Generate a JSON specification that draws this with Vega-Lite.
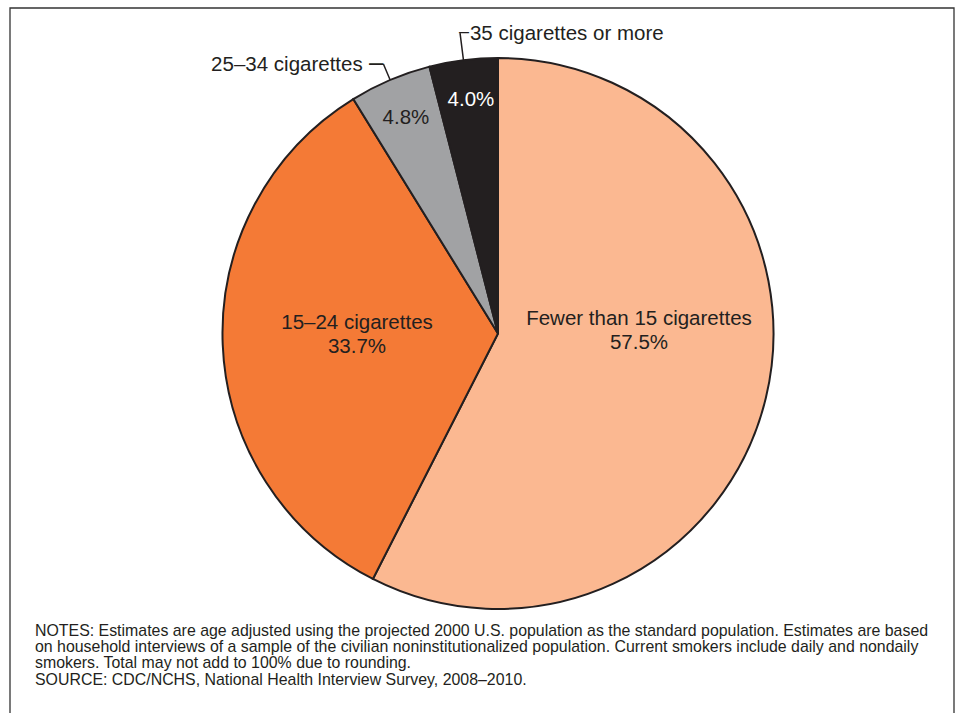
{
  "$schema": "https://vega.github.io/schema/vega-lite/v6.json",
  "width": 944,
  "height": 705,
  "autosize": {"type": "none"},
  "padding": {"left": 10, "top": 8, "right": 5, "bottom": 0},
  "background": "white",
  "config": {
    "view": {"stroke": null},
    "text": {"font": "Liberation Sans", "fontSize": 20.5, "fill": "#231F20", "baseline": "alphabetic"}
  },
  "title": {
    "text": [
      "NOTES: Estimates are age adjusted using the projected 2000 U.S. population as the standard population. Estimates are based",
      "on household interviews of a sample of the civilian noninstitutionalized population. Current smokers include daily and nondaily",
      "smokers. Total may not add to 100% due to rounding.",
      "SOURCE: CDC/NCHS, National Health Interview Survey, 2008–2010."
    ],
    "orient": "bottom",
    "anchor": "start",
    "frame": "group",
    "offset": -98,
    "dx": 25,
    "baseline": "alphabetic",
    "font": "Liberation Sans",
    "fontSize": 15.9,
    "fontWeight": "normal",
    "color": "#231F20",
    "lineHeight": 16.4
  },
  "layer": [
    {
      "data": {"values": [{}]},
      "mark": {"type": "rect", "filled": false, "stroke": "#333333", "strokeWidth": 1.3},
      "encoding": {
        "x": {"datum": -1.7713, "type": "quantitative", "scale": {"domain": [-1.7713, 1.6552], "nice": false, "zero": false}, "axis": null},
        "x2": {"datum": 1.6552},
        "y": {"datum": 1.1815, "type": "quantitative", "scale": {"domain": [-1.3775, 1.1815], "nice": false, "zero": false}, "axis": null},
        "y2": {"datum": -1.45}
      }
    },
    {
      "data": {
        "values": [
          {"category": "Fewer than 15 cigarettes", "share": 0.575},
          {"category": "15–24 cigarettes", "share": 0.337},
          {"category": "25–34 cigarettes", "share": 0.048},
          {"category": "35 cigarettes or more", "share": 0.040}
        ]
      },
      "encoding": {
        "theta": {"field": "share", "type": "quantitative", "stack": true},
        "order": {"field": "share", "sort": "descending"},
        "x": {"datum": 0, "type": "quantitative", "scale": {"domain": [-1.7713, 1.6552], "nice": false, "zero": false}, "axis": null},
        "y": {"datum": 0, "type": "quantitative", "scale": {"domain": [-1.3775, 1.1815], "nice": false, "zero": false}, "axis": null}
      },
      "layer": [
        {
          "mark": {"type": "arc", "outerRadius": 275.5, "stroke": "#231F20", "strokeWidth": 2},
          "encoding": {
            "color": {
              "field": "category",
              "type": "nominal",
              "scale": {
                "domain": ["Fewer than 15 cigarettes", "15–24 cigarettes", "25–34 cigarettes", "35 cigarettes or more"],
                "range": ["#FBB891", "#F47A36", "#A1A2A4", "#231F20"]
              },
              "legend": null
            }
          }
        },
        {
          "mark": {"type": "arc", "innerRadius": 275.5, "outerRadius": 292.8, "padAngle": 3.1, "fillOpacity": 0, "stroke": "#231F20", "strokeWidth": 1.5},
          "encoding": {
            "strokeOpacity": {"condition": {"test": "datum.category === '25–34 cigarettes'", "value": 1}, "value": 0}
          }
        },
        {
          "mark": {"type": "arc", "innerRadius": 275.5, "outerRadius": 302.7, "padAngle": 3.1, "fillOpacity": 0, "stroke": "#231F20", "strokeWidth": 1.5},
          "encoding": {
            "strokeOpacity": {"condition": {"test": "datum.category === '35 cigarettes or more'", "value": 1}, "value": 0}
          }
        },
        {
          "mark": {"type": "text", "radius": 145, "dy": -42.5, "align": "center"},
          "encoding": {
            "text": {"condition": {"test": "datum.category === 'Fewer than 15 cigarettes'", "field": "category", "type": "nominal"}, "value": ""}
          }
        },
        {
          "mark": {"type": "text", "radius": 145, "dy": -18, "align": "center"},
          "encoding": {
            "text": {"condition": {"test": "datum.category === 'Fewer than 15 cigarettes'", "field": "share", "type": "quantitative", "format": ".1%"}, "value": ""}
          }
        },
        {
          "mark": {"type": "text", "radius": 141.1, "dy": -10, "align": "center"},
          "encoding": {
            "text": {"condition": {"test": "datum.category === '15–24 cigarettes'", "field": "category", "type": "nominal"}, "value": ""}
          }
        },
        {
          "mark": {"type": "text", "radius": 141.1, "dy": 14, "align": "center"},
          "encoding": {
            "text": {"condition": {"test": "datum.category === '15–24 cigarettes'", "field": "share", "type": "quantitative", "format": ".1%"}, "value": ""}
          }
        },
        {
          "mark": {"type": "text", "radius": 235.1, "dy": 6.8, "align": "center"},
          "encoding": {
            "text": {"condition": {"test": "datum.category === '25–34 cigarettes'", "field": "share", "type": "quantitative", "format": ".1%"}, "value": ""}
          }
        },
        {
          "mark": {"type": "text", "radius": 235.5, "dx": 2.5, "dy": 6, "align": "center", "fill": "white"},
          "encoding": {
            "text": {"condition": {"test": "datum.category === '35 cigarettes or more'", "field": "share", "type": "quantitative", "format": ".1%"}, "value": ""}
          }
        },
        {
          "mark": {"type": "text", "radius": 292.8, "dx": -20.7, "dy": 6.6, "align": "right"},
          "encoding": {
            "text": {"condition": {"test": "datum.category === '25–34 cigarettes'", "field": "category", "type": "nominal"}, "value": ""}
          }
        },
        {
          "mark": {"type": "text", "radius": 292.8, "dy": 7.2, "align": "right", "fontSize": 26},
          "encoding": {
            "text": {"condition": {"test": "datum.category === '25–34 cigarettes'", "value": "–"}, "value": ""}
          }
        },
        {
          "mark": {"type": "text", "radius": 302.7, "dx": 9.9, "dy": 7.1, "align": "left"},
          "encoding": {
            "text": {"condition": {"test": "datum.category === '35 cigarettes or more'", "field": "category", "type": "nominal"}, "value": ""}
          }
        },
        {
          "mark": {"type": "text", "radius": 302.7, "dx": -1, "dy": 4.3, "align": "left", "fontSize": 18},
          "encoding": {
            "text": {"condition": {"test": "datum.category === '35 cigarettes or more'", "value": "–"}, "value": ""}
          }
        }
      ]
    }
  ]
}
